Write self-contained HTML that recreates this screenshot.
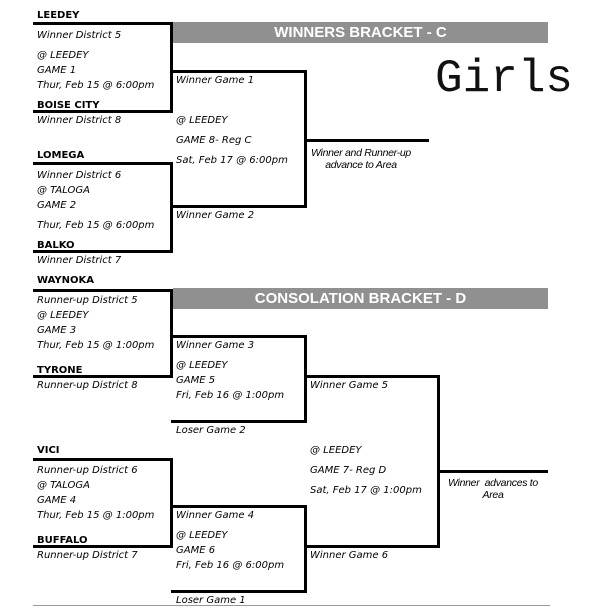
<!DOCTYPE html>
<html><head><style>
body{margin:0;width:607px;height:607px;background:#fff;position:relative;overflow:hidden;font-family:"DejaVu Sans","Liberation Sans",sans-serif;}
.t{position:absolute;font-size:10px;font-style:italic;line-height:14px;white-space:nowrap;color:#000;margin-top:2px;}
.b{font-style:normal;font-weight:bold;}
.l{position:absolute;background:#000;}
.hd{position:absolute;left:173px;width:375px;height:21px;background:#909090;color:#fff;font-family:"Liberation Sans",sans-serif;font-weight:bold;font-size:15px;line-height:22px;text-align:center;}
.n{position:absolute;font-family:"Liberation Sans",sans-serif;font-style:italic;font-size:10.5px;line-height:12px;text-align:center;width:140px;letter-spacing:-0.3px;}
</style></head><body>
<div class="hd" style="top:22px">WINNERS BRACKET - C</div>
<div class="hd" style="top:288px">CONSOLATION BRACKET - D</div>
<div style="position:absolute;left:435px;top:55px;font-family:'Liberation Mono',monospace;font-size:46px;line-height:48px;font-weight:300;color:#111;">Girls</div>

<div class="l" style="left:33px;top:22px;width:140px;height:3px"></div>
<div class="l" style="left:33px;top:110px;width:140px;height:3px"></div>
<div class="l" style="left:170px;top:22px;width:3px;height:91px"></div>
<div class="l" style="left:33px;top:162px;width:140px;height:3px"></div>
<div class="l" style="left:33px;top:250px;width:140px;height:3px"></div>
<div class="l" style="left:170px;top:162px;width:3px;height:91px"></div>
<div class="l" style="left:171px;top:70px;width:136px;height:3px"></div>
<div class="l" style="left:171px;top:205px;width:136px;height:3px"></div>
<div class="l" style="left:304px;top:70px;width:3px;height:138px"></div>
<div class="l" style="left:304px;top:139px;width:125px;height:3px"></div>

<div class="l" style="left:33px;top:289px;width:140px;height:3px"></div>
<div class="l" style="left:33px;top:375px;width:140px;height:3px"></div>
<div class="l" style="left:170px;top:289px;width:3px;height:89px"></div>
<div class="l" style="left:171px;top:335px;width:136px;height:3px"></div>
<div class="l" style="left:171px;top:420px;width:136px;height:3px"></div>
<div class="l" style="left:304px;top:335px;width:3px;height:88px"></div>
<div class="l" style="left:305px;top:375px;width:135px;height:3px"></div>
<div class="l" style="left:305px;top:545px;width:135px;height:3px"></div>
<div class="l" style="left:437px;top:375px;width:3px;height:173px"></div>
<div class="l" style="left:439px;top:470px;width:109px;height:3px"></div>
<div class="l" style="left:33px;top:458px;width:140px;height:3px"></div>
<div class="l" style="left:33px;top:545px;width:140px;height:3px"></div>
<div class="l" style="left:170px;top:458px;width:3px;height:90px"></div>
<div class="l" style="left:171px;top:505px;width:136px;height:3px"></div>
<div class="l" style="left:171px;top:590px;width:136px;height:3px"></div>
<div class="l" style="left:304px;top:505px;width:3px;height:88px"></div>
<div style="position:absolute;left:33px;top:605px;width:517px;height:1px;background:#999"></div>

<div class="t b" style="left:37px;top:7px">LEEDEY</div>
<div class="t" style="left:37px;top:27px">Winner District 5</div>
<div class="t" style="left:37px;top:47px">@ LEEDEY</div>
<div class="t" style="left:37px;top:62px">GAME 1</div>
<div class="t" style="left:37px;top:77px">Thur, Feb 15 @ 6:00pm</div>
<div class="t b" style="left:37px;top:97px">BOISE CITY</div>
<div class="t" style="left:37px;top:112px">Winner District 8</div>
<div class="t b" style="left:37px;top:147px">LOMEGA</div>
<div class="t" style="left:37px;top:167px">Winner District 6</div>
<div class="t" style="left:37px;top:182px">@ TALOGA</div>
<div class="t" style="left:37px;top:197px">GAME 2</div>
<div class="t" style="left:37px;top:217px">Thur, Feb 15 @ 6:00pm</div>
<div class="t b" style="left:37px;top:237px">BALKO</div>
<div class="t" style="left:37px;top:252px">Winner District 7</div>
<div class="t b" style="left:37px;top:272px">WAYNOKA</div>
<div class="t" style="left:37px;top:292px">Runner-up District 5</div>
<div class="t" style="left:37px;top:307px">@ LEEDEY</div>
<div class="t" style="left:37px;top:322px">GAME 3</div>
<div class="t" style="left:37px;top:337px">Thur, Feb 15 @ 1:00pm</div>
<div class="t b" style="left:37px;top:362px">TYRONE</div>
<div class="t" style="left:37px;top:377px">Runner-up District 8</div>
<div class="t b" style="left:37px;top:442px">VICI</div>
<div class="t" style="left:37px;top:462px">Runner-up District 6</div>
<div class="t" style="left:37px;top:477px">@ TALOGA</div>
<div class="t" style="left:37px;top:492px">GAME 4</div>
<div class="t" style="left:37px;top:507px">Thur, Feb 15 @ 1:00pm</div>
<div class="t b" style="left:37px;top:532px">BUFFALO</div>
<div class="t" style="left:37px;top:547px">Runner-up District 7</div>

<div class="t" style="left:176px;top:72px">Winner Game 1</div>
<div class="t" style="left:176px;top:112px">@ LEEDEY</div>
<div class="t" style="left:176px;top:132px">GAME 8- Reg C</div>
<div class="t" style="left:176px;top:152px">Sat, Feb 17 @ 6:00pm</div>
<div class="t" style="left:176px;top:207px">Winner Game 2</div>
<div class="t" style="left:176px;top:337px">Winner Game 3</div>
<div class="t" style="left:176px;top:357px">@ LEEDEY</div>
<div class="t" style="left:176px;top:372px">GAME 5</div>
<div class="t" style="left:176px;top:387px">Fri, Feb 16 @ 1:00pm</div>
<div class="t" style="left:176px;top:422px">Loser Game 2</div>
<div class="t" style="left:176px;top:507px">Winner Game 4</div>
<div class="t" style="left:176px;top:527px">@ LEEDEY</div>
<div class="t" style="left:176px;top:542px">GAME 6</div>
<div class="t" style="left:176px;top:557px">Fri, Feb 16 @ 6:00pm</div>
<div class="t" style="left:176px;top:592px">Loser Game 1</div>

<div class="t" style="left:310px;top:377px">Winner Game 5</div>
<div class="t" style="left:310px;top:442px">@ LEEDEY</div>
<div class="t" style="left:310px;top:462px">GAME 7- Reg D</div>
<div class="t" style="left:310px;top:482px">Sat, Feb 17 @ 1:00pm</div>
<div class="t" style="left:310px;top:547px">Winner Game 6</div>

<div class="n" style="left:291px;top:147px">Winner and Runner-up<br>advance to Area</div>
<div class="n" style="left:423px;top:477px">Winner&nbsp; advances to<br>Area</div>
</body></html>
